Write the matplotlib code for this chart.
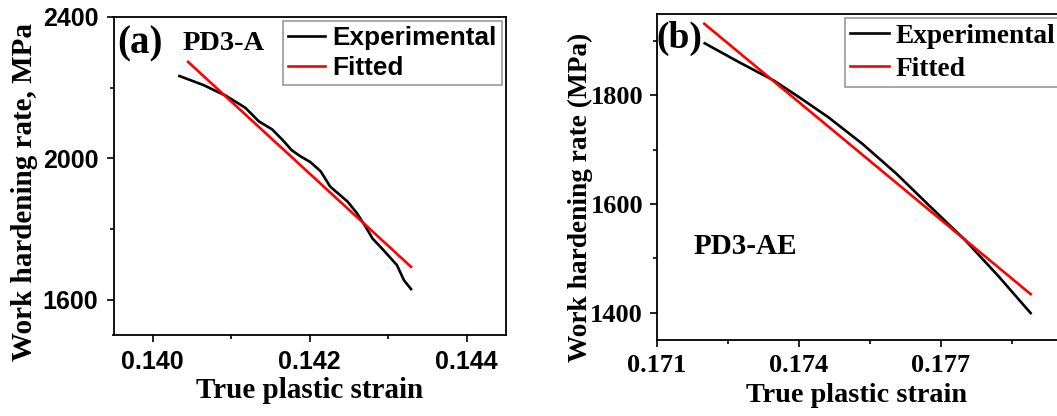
import matplotlib
matplotlib.use('Agg')
import matplotlib.pyplot as plt
import numpy as np

# panel (a) PD3-A
strain_a = [0.14034, 0.14065, 0.14094, 0.14118, 0.14135, 0.14152, 0.14165, 0.14177,
            0.14188, 0.14201, 0.14214, 0.14226, 0.14248, 0.14260, 0.14271, 0.14280,
            0.14294, 0.14311, 0.14320, 0.14329]
rate_a = [2233, 2207, 2176, 2143, 2105, 2082, 2053, 2023,
          2006, 1989, 1963, 1920, 1878, 1845, 1807, 1773,
          1740, 1698, 1655, 1630]
fit_strain_a = [0.14045, 0.14329]
fit_rate_a = [2273, 1693]

# panel (b) PD3-AE
strain_b = [0.17201, 0.17274, 0.17346, 0.17400, 0.17462, 0.17534, 0.17606,
            0.17678, 0.17751, 0.17823, 0.17890]
rate_b = [1896, 1861, 1828, 1797, 1760, 1711, 1656, 1595, 1534, 1466, 1399]
fit_strain_b = [0.17200, 0.17890]
fit_rate_b = [1932, 1434]

serif = 'Liberation Serif'
sans = 'Liberation Sans'

fig = plt.figure(figsize=(10.57, 4.16), dpi=100)
W, H = 1057.0, 416.0

def px(l, r, t, b):
    return [l / W, 1 - b / H, (r - l) / W, (b - t) / H]

def label(x, y, s, size, rot=0):
    fig.text(x / W, 1 - y / H, s, family=serif, weight='bold', fontsize=size,
             rotation=rot, ha='center', va='center')

# ---------- (a) ----------
ax1 = fig.add_axes(px(113.5, 506, 17, 335))
ax1.plot(strain_a, rate_a, color='black', lw=1.9, label='Experimental')
ax1.plot(fit_strain_a, fit_rate_a, color='red', lw=1.9, label='Fitted')
ax1.set_xlim(0.1395, 0.1445)
ax1.set_ylim(1500, 2400)
ax1.set_xticks([0.140, 0.142, 0.144])
ax1.set_xticklabels(['0.140', '0.142', '0.144'])
ax1.set_xticks([0.141, 0.143], minor=True)
ax1.set_yticks([1600, 2000, 2400])
ax1.set_yticks([1800, 2200], minor=True)
for lab in ax1.get_xticklabels() + ax1.get_yticklabels():
    lab.set_fontfamily(sans)
    lab.set_fontweight('bold')
    lab.set_fontsize(18)
ax1.tick_params(which='major', direction='out', length=5, width=1.2, pad=6)
ax1.tick_params(which='minor', direction='out', length=3, width=1.2)
for s in ax1.spines.values():
    s.set_linewidth(1.3)
label(310, 391, 'True plastic strain', 21)
label(25, 192, 'Work hardening rate, MPa', 21, rot=90)
fig.text(117 / W, 1 - 44 / H, '(a)', family=serif, weight='bold', fontsize=28, va='center', ha='left')
fig.text(183 / W, 1 - 44 / H, 'PD3-A', family=serif, weight='bold', fontsize=20.5, va='center', ha='left')
leg1 = ax1.legend(loc='upper left', bbox_to_anchor=(283 / W, 1 - 21 / H),
                  bbox_transform=fig.transFigure, borderaxespad=0,
                  prop={'family': sans, 'weight': 'bold', 'size': 18.8},
                  handlelength=1.4, handletextpad=0.3, labelspacing=0.22,
                  borderpad=0.2, fancybox=False, framealpha=1)
leg1.get_frame().set_edgecolor('#999999')
leg1.get_frame().set_linewidth(1.2)

# ---------- (b) ----------
ax2 = fig.add_axes(px(657, 1059, 14, 339.7))
ax2.plot(strain_b, rate_b, color='black', lw=1.9, label='Experimental')
ax2.plot(fit_strain_b, fit_rate_b, color='red', lw=1.9, label='Fitted')
ax2.set_xlim(0.171, 0.1795)
ax2.set_ylim(1350, 1950)
ax2.set_xticks([0.171, 0.174, 0.177])
ax2.set_xticklabels(['0.171', '0.174', '0.177'])
ax2.set_xticks([0.1725, 0.1755, 0.1785], minor=True)
ax2.set_yticks([1400, 1600, 1800])
ax2.set_yticks([1500, 1700, 1900], minor=True)
for lab in ax2.get_xticklabels() + ax2.get_yticklabels():
    lab.set_fontfamily(serif)
    lab.set_fontweight('bold')
    lab.set_fontsize(19)
ax2.tick_params(which='major', direction='out', length=5, width=1.2, pad=5)
ax2.tick_params(which='minor', direction='out', length=3, width=1.2)
for s in ax2.spines.values():
    s.set_linewidth(1.3)
label(857, 396, 'True plastic strain', 20.3)
label(580, 197, 'Work hardening rate (MPa)', 19.7, rot=90)
fig.text(656 / W, 1 - 38 / H, '(b)', family=serif, weight='bold', fontsize=27, va='center', ha='left')
fig.text(694 / W, 1 - 247 / H, 'PD3-AE', family=serif, weight='bold', fontsize=21, va='center', ha='left')
leg2 = ax2.legend(loc='upper left', bbox_to_anchor=(845 / W, 1 - 18 / H),
                  bbox_transform=fig.transFigure, borderaxespad=0,
                  prop={'family': serif, 'weight': 'bold', 'size': 19.7},
                  handlelength=1.4, handletextpad=0.25, labelspacing=0.3,
                  borderpad=0.2, fancybox=False, framealpha=1)
leg2.get_frame().set_edgecolor('#999999')
leg2.get_frame().set_linewidth(1.2)

fig.savefig('out.png', dpi=100)
